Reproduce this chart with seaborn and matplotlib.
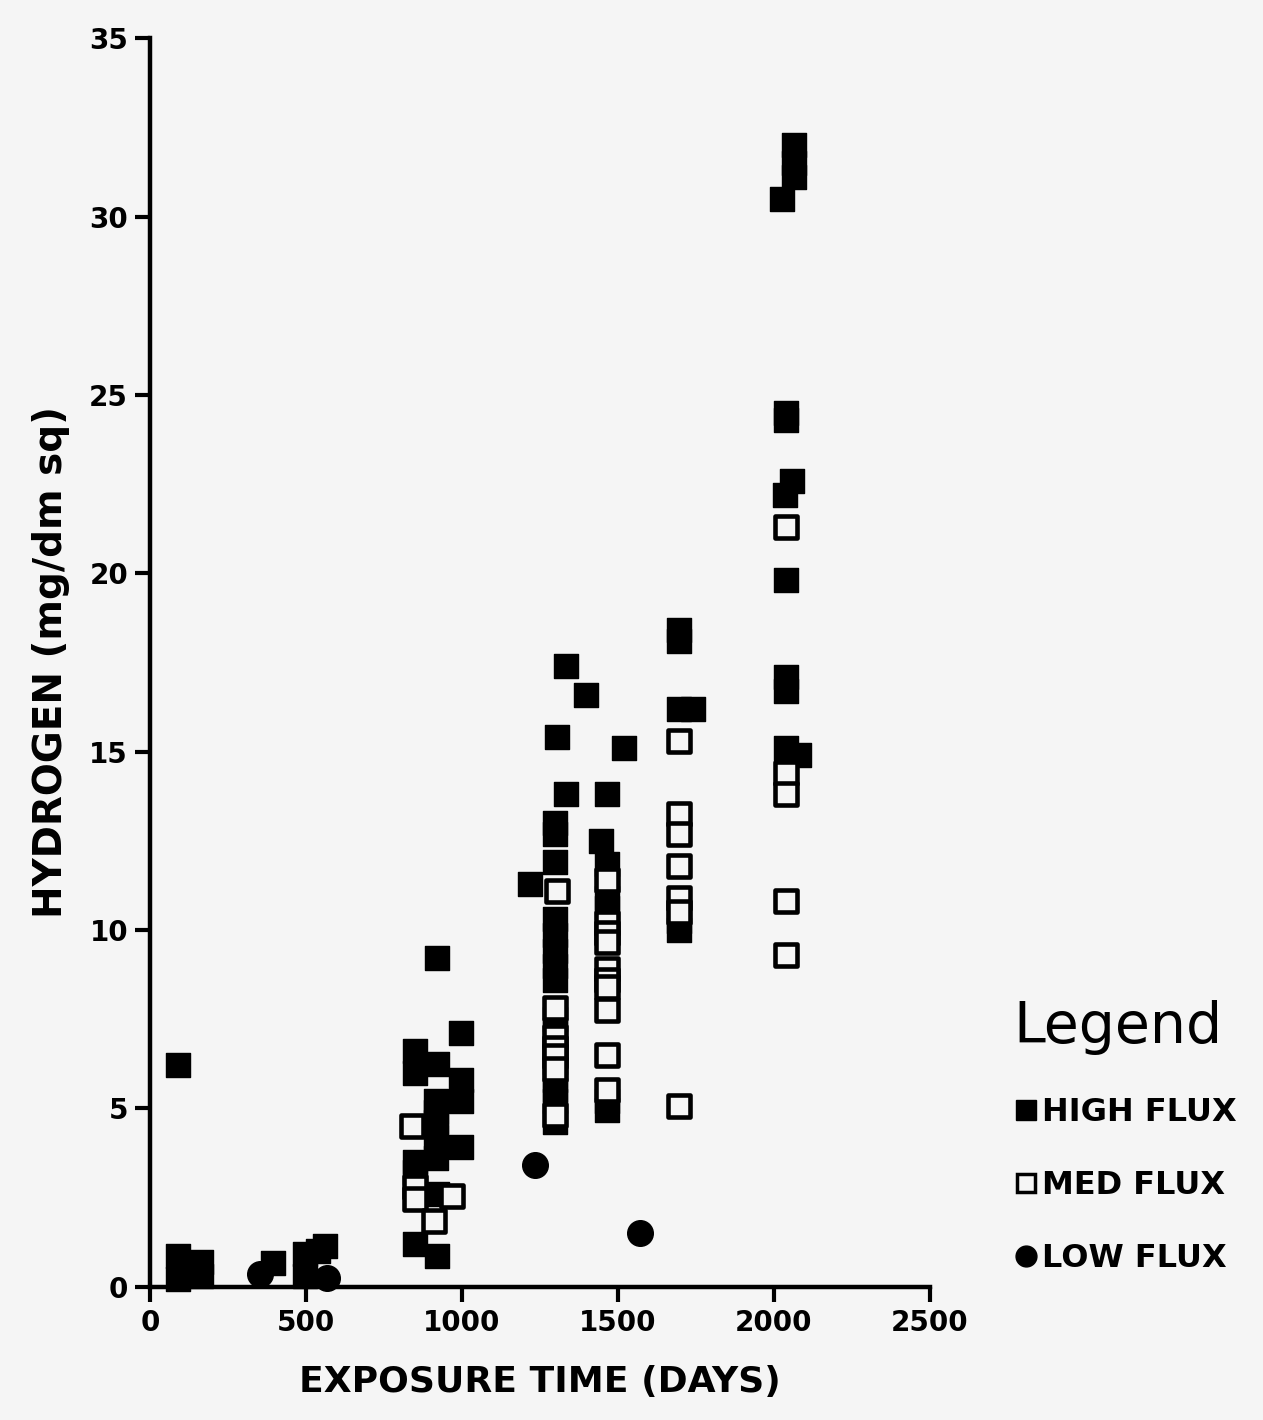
import matplotlib
matplotlib.use('Agg')
import matplotlib.pyplot as plt
import seaborn as sns
from matplotlib.lines import Line2D

# data
high_x = [90, 90, 90, 163, 163, 394, 497, 538, 497, 561,
          920, 997, 849, 849, 920, 997, 997, 917, 917, 917, 917, 997, 849, 849, 917, 920, 849, 920,
          1333, 1397, 1305, 1519, 1333, 1465, 1298, 1298, 1445, 1298, 1218, 1465, 1465, 1465,
          1298, 1298, 1298, 1298, 1298, 1298, 1298, 1298, 1298, 1298, 1298, 1298, 1465, 1465,
          1695, 1695, 1695, 1740, 1695, 1695,
          2065, 2065, 2065, 2025, 2040, 2040, 2060, 2035, 2040, 2040, 2040, 2040, 2080]
high_y = [6.2, 0.85, 0.2, 0.7, 0.3, 0.65, 0.9, 1.0, 0.3, 1.15,
          9.2, 7.1, 6.6, 6.0, 6.25, 5.8, 5.2, 5.2, 4.9, 4.6, 4.2, 3.9, 3.5, 3.2, 3.6, 2.6, 1.2, 0.85,
          17.4, 16.6, 15.4, 15.1, 13.8, 13.8, 13.0, 12.7, 12.5, 11.9, 11.3, 11.85, 10.9, 10.6,
          10.3, 9.85, 9.4, 9.0, 8.6, 7.5, 7.2, 6.3, 5.8, 5.5, 5.2, 4.6, 5.2, 4.95,
          18.4, 18.1, 16.2, 16.2, 10.0, 10.25,
          32.0, 31.5, 31.1, 30.5, 24.5, 24.3, 22.6, 22.2, 19.8, 17.1, 16.7, 15.1, 14.9]

med_x = [840, 849, 849, 968, 910,
         1305, 1298, 1298, 1298, 1298, 1298, 1298,
         1465, 1465, 1465, 1465, 1465, 1465, 1465, 1465, 1465, 1465,
         1695, 1695, 1695, 1695, 1695, 1695, 1695,
         2040, 2040, 2040, 2040, 2040]
med_y = [4.5, 2.8, 2.45, 2.55, 1.85,
         11.1, 7.8, 7.0, 6.7, 6.45, 6.1, 4.8,
         11.4, 10.2, 9.9, 9.65, 8.9, 8.6, 8.4, 7.75, 6.5, 5.5,
         15.3, 13.25, 12.7, 11.8, 10.9, 10.5, 5.05,
         21.3, 14.4, 13.8, 10.8, 9.3]

low_x = [353, 567, 1234, 1570]
low_y = [0.35, 0.25, 3.4, 1.5]

x_ticks = [0, 500, 1000, 1500, 2000, 2500]
y_ticks = [0, 5, 10, 15, 20, 25, 30, 35]

sns.set_style('ticks')
bg = '#f5f5f5'
plt.rcParams['font.family'] = ['DejaVu Sans']
plt.rcParams['figure.facecolor'] = bg
plt.rcParams['axes.facecolor'] = bg
plt.rcParams['text.color'] = 'black'

fig = plt.figure(figsize=(12.63, 14.2), dpi=100)
ax = fig.add_axes([0.119, 0.094, 0.617, 0.879])

sns.scatterplot(x=high_x, y=high_y, marker='s', s=310, color='black',
                edgecolor='black', linewidth=1, ax=ax, clip_on=False, zorder=3)
sns.scatterplot(x=med_x, y=med_y, marker='s', s=240, facecolor=bg,
                edgecolor='black', linewidth=3.3, ax=ax, clip_on=False, zorder=4)
sns.scatterplot(x=low_x, y=low_y, marker='o', s=340, color='black',
                edgecolor='black', linewidth=1, ax=ax, clip_on=False, zorder=3)

ax.set_xlim(0, 2500)
ax.set_ylim(0, 35)
ax.set_xticks(x_ticks)
ax.set_yticks(y_ticks)
ax.set_xticklabels([str(t) for t in x_ticks], fontsize=20, fontweight='bold', color='black')
ax.set_yticklabels([str(t) for t in y_ticks], fontsize=20, fontweight='bold', color='black')
ax.tick_params(axis='both', length=11, width=3, direction='out', pad=5, color='black')
sns.despine(ax=ax)
for s in ['left', 'bottom']:
    ax.spines[s].set_linewidth(3.2)
    ax.spines[s].set_color('black')

ax.set_xlabel('EXPOSURE TIME (DAYS)', fontsize=26, fontweight='bold', labelpad=20, color='black')
ax.set_ylabel('HYDROGEN (mg/dm sq)', fontsize=28, fontweight='bold', labelpad=14, color='black')

handles = [
    Line2D([], [], marker='s', linestyle='', color='black', markersize=14),
    Line2D([], [], marker='s', linestyle='', markerfacecolor=bg, markeredgecolor='black',
           markeredgewidth=2.5, markersize=13),
    Line2D([], [], marker='o', linestyle='', color='black', markersize=15),
]
leg = fig.legend(handles, ['HIGH FLUX', 'MED FLUX', 'LOW FLUX'], title='Legend',
                 loc='upper left', bbox_to_anchor=(0.802, 0.296), frameon=False,
                 borderpad=0, borderaxespad=0,
                 handletextpad=0.1, handlelength=0.8, labelspacing=1.32,
                 prop={'size': 23, 'weight': 'bold'}, title_fontsize=41)
leg._legend_box.align = 'left'

fig.savefig('out.png', dpi=100, facecolor=bg)
